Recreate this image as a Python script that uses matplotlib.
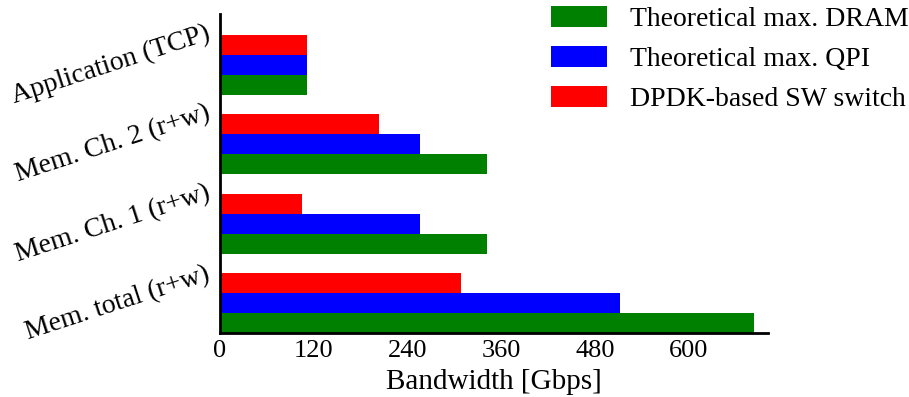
import numpy as np
from matplotlib import pyplot as plt

plt.rcParams['font.family'] = ['Liberation Serif', 'DejaVu Serif']

categories = ["Mem. total (r+w)", "Mem. Ch. 1 (r+w)", "Mem. Ch. 2 (r+w)", "Application (TCP)"]
dram = [684, 342, 342, 112]
qpi = [512, 256, 256, 112]
dpdk = [309, 105, 204, 112]
series_labels = ["Theoretical max. DRAM", "Theoretical max. QPI", "DPDK-based SW switch"]
ticks = [0, 120, 240, 360, 480, 600]

fig = plt.figure(figsize=(9.09, 3.97), dpi=100)
ax = fig.add_axes([0.242, 0.161, 0.603, 0.804])

y = np.arange(len(categories))
h = 0.25
ax.barh(y - h, dram, height=h, color='green', label=series_labels[0])
ax.barh(y, qpi, height=h, color='blue', label=series_labels[1])
ax.barh(y + h, dpdk, height=h, color='red', label=series_labels[2])

ax.set_xlim(0, 702)
ax.set_ylim(-0.375, 3.64)
ax.set_xticks(ticks)
ax.set_yticks(y)
ax.set_yticklabels(categories, rotation=18, ha='right', va='center')
ax.tick_params(length=0, pad=6)
ax.tick_params(axis='x', labelsize=19, pad=5)
ax.tick_params(axis='y', labelsize=20, pad=5)
ax.set_xlabel('Bandwidth [Gbps]', fontsize=21, labelpad=5)

for s in ['top', 'right']:
    ax.spines[s].set_visible(False)
for s in ['left', 'bottom']:
    ax.spines[s].set_linewidth(2)

ax.legend(loc='upper right', bbox_to_anchor=(1.006, 1.0), bbox_transform=fig.transFigure,
          frameon=False, fontsize=20, handlelength=2.0, handleheight=0.8,
          labelspacing=0.5, handletextpad=0.85, borderaxespad=0.1, borderpad=0.1)

fig.savefig('out.png', dpi=100)
